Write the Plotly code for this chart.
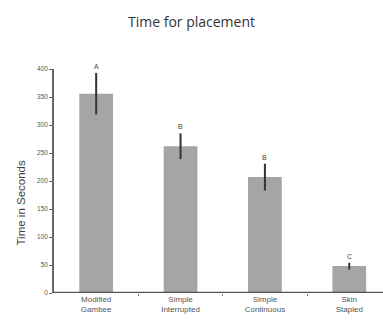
import plotly.graph_objects as go

categories = ["Modified<br>Gambee", "Simple<br>Interrupted", "Simple<br>Continuous", "Skin<br>Stapled"]
mean_time = [356, 262, 207, 48]
error_sd = [37, 23, 24, 6]
group_letters = ["A", "B", "B", "C"]
y_ticks = [0, 50, 100, 150, 200, 250, 300, 350, 400]

x_pos = list(range(len(categories)))

fig = go.Figure()
fig.add_trace(go.Bar(
    x=x_pos,
    y=mean_time,
    width=0.4,
    marker=dict(color="#a5a5a5", line=dict(width=0)),
    error_y=dict(type="data", array=error_sd, visible=True,
                 color="#333333", thickness=2, width=0),
))

for xi, m, e, lab in zip(x_pos, mean_time, error_sd, group_letters):
    fig.add_annotation(x=xi, y=m + e, text=lab, showarrow=False,
                       yanchor="bottom", yshift=1,
                       font=dict(size=7, color="#444444", family="Liberation Sans"))

# rotated axis title
fig.add_annotation(xref="paper", yref="paper", x=-0.1, y=0.40,
                   text="Time in Seconds", textangle=-90, showarrow=False,
                   xanchor="center", yanchor="middle",
                   font=dict(size=11.5, color="#444444", family="Liberation Sans"))

fig.update_layout(
    width=383, height=322,
    margin=dict(l=54, r=0, t=69, b=29),
    paper_bgcolor="white", plot_bgcolor="white",
    showlegend=False,
    title=dict(text="Time for placement", x=0.5, xanchor="center",
               y=1 - 22 / 322, yanchor="middle",
               font=dict(size=14, color="#333333", family="Open Sans")),
    xaxis=dict(
        range=[-0.5, 3.4],
        tickmode="array", tickvals=x_pos, ticktext=categories,
        ticks="", showgrid=False, zeroline=False,
        showline=False,
        tickfont=dict(size=8, color="#555555", family="Liberation Sans"),
        minor=dict(tickmode="array", tickvals=[0.5, 1.5, 2.5], ticks="outside",
                   ticklen=2, tickcolor="#777777"),
    ),
    yaxis=dict(
        range=[0, 400],
        tickmode="array", tickvals=y_ticks,
        ticks="outside", ticklen=3, tickcolor="#666666",
        showgrid=False, zeroline=False,
        showline=True, linecolor="#666666", linewidth=1.5,
        tickfont=dict(size=6.5, color="#555555", family="Liberation Sans"),
    ),
)

# baseline along the category axis
fig.add_shape(type="line", xref="paper", yref="y", x0=0, x1=1, y0=0, y1=0,
              line=dict(color="#555555", width=2.5))

fig.write_html("out.html")
